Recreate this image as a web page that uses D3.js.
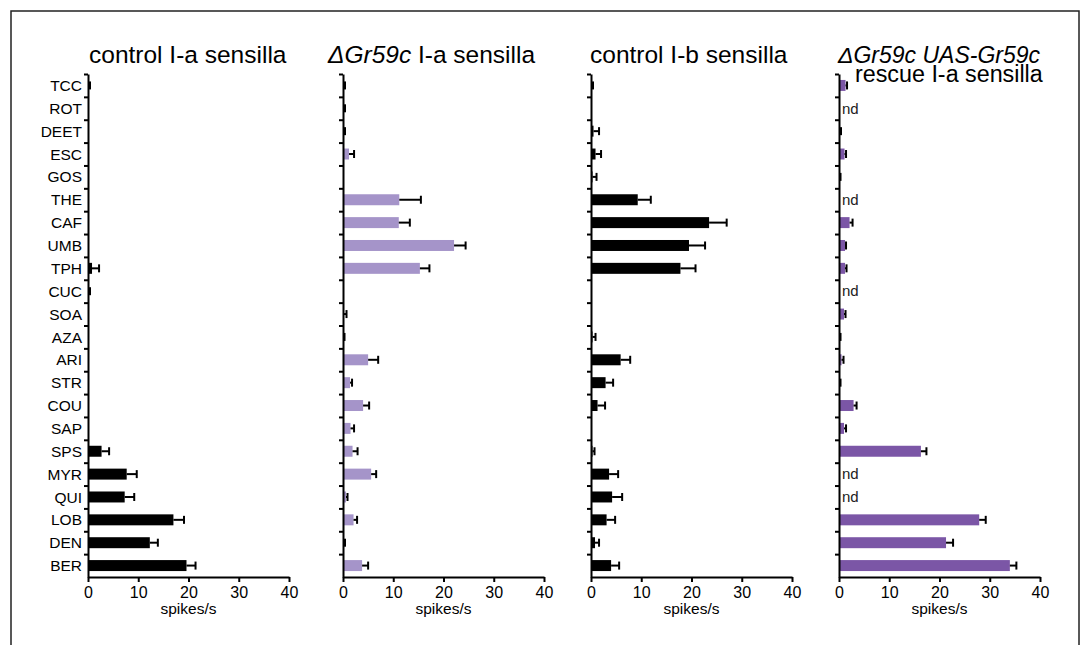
<!DOCTYPE html>
<html>
<head>
<meta charset="utf-8">
<script src="https://cdn.jsdelivr.net/npm/d3@7"></script>
<style>
  body { margin: 0; background: #fff; }
  svg { display: block; font-family: "Liberation Sans", Arial, sans-serif; }
</style>
</head>
<body>
<svg id="chart" width="1090" height="645"></svg>
<script>
// odorant / tastant codes, top to bottom
var categories = ["TCC","ROT","DEET","ESC","GOS","THE","CAF","UMB","TPH","CUC","SOA",
                  "AZA","ARI","STR","COU","SAP","SPS","MYR","QUI","LOB","DEN","BER"];
var xTicks = [0, 10, 20, 30, 40];

// spikes/s, mean and error (null = nd)
var ctrlIaMean = [0.1,0,0,0,0,0,0,0,0.8,0.1,0,0,0,0,0,0,2.7,7.7,7.3,17.0,12.3,19.6];
var ctrlIaErr  = [0.3,0,0,0,0,0,0,0,1.4,0.3,0,0,0,0,0,0,1.5,2.0,1.9,2.1,1.6,1.8];

var mutIaMean = [0.1,0.1,0.1,1.2,0,11.2,11.1,22.1,15.3,0,0.2,0.1,5.0,1.4,4.0,1.5,1.9,5.6,0.6,2.1,0.2,3.8];
var mutIaErr  = [0.3,0.3,0.3,1.0,0,4.3,2.2,2.3,1.9,0,0.5,0.2,2.0,0.4,1.2,0.7,1.0,1.0,0.3,0.7,0.2,1.2];

var ctrlIbMean = [0.1,0,0.5,0.9,0.3,9.3,23.5,19.5,17.8,0,0,0.3,5.9,2.9,1.3,0,0.3,3.6,4.2,3.1,0.8,4.0];
var ctrlIbErr  = [0.3,0,1.1,1.1,0.8,2.6,3.5,3.2,3.0,0,0,0.6,1.9,1.5,1.5,0,0.4,1.8,2.0,1.7,0.8,1.6];

var rescueMean = [1.3,null,0.1,1.1,0.1,null,2.1,1.2,1.2,null,1.0,0.1,0.5,0.1,2.9,1.0,16.3,null,null,27.9,21.3,34.0];
var rescueErr  = [0.3,null,0.3,0.3,0.2,null,0.6,0.2,0.3,null,0.3,0.2,0.4,0.2,0.6,0.4,1.1,null,null,1.3,1.4,1.3];

var panels = [
  { x0: 88,  mean: ctrlIaMean, err: ctrlIaErr, color: "#000", labels: true,
    title: [{ x: 89, y: 63, fs: 24.5, parts: [["control I-a sensilla", false]] }] },
  { x0: 343, mean: mutIaMean, err: mutIaErr, color: "#a594c9",
    title: [{ x: 328, y: 63, fs: 24.5, parts: [["ΔGr59c", true], [" I-a sensilla", false]] }] },
  { x0: 591, mean: ctrlIbMean, err: ctrlIbErr, color: "#000",
    title: [{ x: 590, y: 63, fs: 24.5, parts: [["control I-b sensilla", false]] }] },
  { x0: 839, mean: rescueMean, err: rescueErr, color: "#7b56a6",
    title: [{ x: 838, y: 63, fs: 23, parts: [["ΔGr59c UAS-Gr59c", true]] },
            { x: 855, y: 82, fs: 23.3, parts: [["rescue I-a sensilla", false]] }] }
];

var svg = d3.select("#chart");
var yTop = 74, yBottom = 577, panelW = 201;

// frame
svg.append("rect")
  .attr("x", 11).attr("y", 11).attr("width", 1068).attr("height", 660)
  .attr("fill", "none").attr("stroke", "#222").attr("stroke-width", 1.5);

var y = d3.scaleBand().domain(categories).range([yTop, yBottom])
  .paddingInner(0.52).paddingOuter(0.26);
var yEdge = d3.scaleLinear().domain([0, categories.length]).range([yTop, yBottom]);

panels.forEach(function(p) {
  var x = d3.scaleLinear().domain([0, 40]).range([p.x0, p.x0 + panelW]);
  var g = svg.append("g");

  var rows = categories.map(function(c, i) {
    return { cat: c, mean: p.mean[i], err: p.err[i] };
  });

  // bars
  g.selectAll("rect.bar")
    .data(rows.filter(d => d.mean !== null && d.mean > 0))
    .enter().append("rect")
    .attr("class", "bar")
    .attr("x", x(0))
    .attr("y", d => y(d.cat))
    .attr("width", d => x(d.mean) - x(0))
    .attr("height", y.bandwidth())
    .attr("fill", p.color);

  // error bars, one sided
  var eb = g.selectAll("g.err")
    .data(rows.filter(d => d.err !== null && d.err > 0))
    .enter().append("g").attr("class", "err");
  eb.append("line")
    .attr("x1", d => x(d.mean)).attr("x2", d => x(d.mean + d.err))
    .attr("y1", d => y(d.cat) + y.bandwidth() / 2)
    .attr("y2", d => y(d.cat) + y.bandwidth() / 2)
    .attr("stroke", "#000").attr("stroke-width", 2);
  eb.append("line")
    .attr("x1", d => x(d.mean + d.err)).attr("x2", d => x(d.mean + d.err))
    .attr("y1", d => y(d.cat) + y.bandwidth() / 2 - 4)
    .attr("y2", d => y(d.cat) + y.bandwidth() / 2 + 4)
    .attr("stroke", "#000").attr("stroke-width", 2);

  // nd
  g.selectAll("text.nd")
    .data(rows.filter(d => d.mean === null))
    .enter().append("text")
    .attr("class", "nd")
    .attr("x", x(0) + 3)
    .attr("y", d => y(d.cat) + y.bandwidth() / 2)
    .attr("dy", "0.35em")
    .attr("font-size", 15).attr("fill", "#222")
    .text("nd");

  // y axis: ticks at band edges
  var ya = g.append("g").attr("transform", "translate(" + x(0) + ",0)")
    .call(d3.axisLeft(yEdge).tickValues(d3.range(0, categories.length))
      .tickFormat("").tickSize(4).tickSizeOuter(0));
  ya.select(".domain").attr("stroke-width", 2);
  ya.selectAll(".tick line").attr("stroke-width", 2);

  if (p.labels) {
    g.selectAll("text.cat")
      .data(categories)
      .enter().append("text")
      .attr("class", "cat")
      .attr("x", x(0) - 6)
      .attr("y", d => y(d) + y.bandwidth() / 2)
      .attr("dy", "0.36em")
      .attr("text-anchor", "end")
      .attr("font-size", 15.5)
      .text(d => d);
  }

  // x axis
  var xa = g.append("g").attr("transform", "translate(0," + yBottom + ")")
    .call(d3.axisBottom(x).tickValues(xTicks).tickSize(5).tickSizeOuter(0).tickPadding(5));
  xa.select(".domain").attr("stroke-width", 2);
  xa.selectAll(".tick line").attr("stroke-width", 2);
  xa.attr("font-size", 16).attr("font-family", "Liberation Sans, Arial, sans-serif");
  xa.selectAll(".tick text").attr("fill", "#000");

  g.append("text")
    .attr("x", p.x0 + panelW / 2).attr("y", 614)
    .attr("text-anchor", "middle").attr("font-size", 15.5)
    .text("spikes/s");

  // titles
  p.title.forEach(function(t) {
    var txt = g.append("text").attr("x", t.x).attr("y", t.y).attr("font-size", t.fs);
    t.parts.forEach(function(pt) {
      txt.append("tspan").attr("font-style", pt[1] ? "italic" : "normal").text(pt[0]);
    });
  });
});
</script>
</body>
</html>
